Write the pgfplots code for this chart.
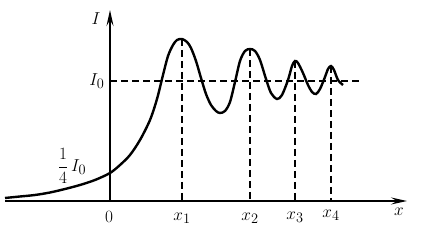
\documentclass[border=0pt]{standalone}
\usepackage{pgfplots}
\pgfplotsset{compat=1.18}
\usetikzlibrary{arrows.meta}
\begin{document}
\begin{tikzpicture}
\begin{axis}[
  scale only axis, width=429pt, height=245pt,
  xmin=-110, xmax=319, ymin=-44, ymax=201,
  axis lines=none, clip=false,
]
\path (rel axis cs:0,0) rectangle (rel axis cs:1,1);
% axes
\draw[line width=1.8pt, -{Stealth[length=16pt,width=7pt,inset=6pt]}] (axis cs:-105,0) -- (axis cs:297,0);
\draw[line width=1.8pt, -{Stealth[length=16pt,width=7pt,inset=6pt]}] (axis cs:0,0) -- (axis cs:0,191);
% dashed lines
\addplot[line width=1.4pt, dash pattern=on 7pt off 4pt] coordinates {(0,120) (250,120)};
\addplot[line width=1.4pt, dash pattern=on 7pt off 4pt] coordinates {(72,162) (72,0)};
\addplot[line width=1.4pt, dash pattern=on 7pt off 4pt] coordinates {(140,152) (140,0)};
\addplot[line width=1.4pt, dash pattern=on 7pt off 4pt] coordinates {(185,140) (185,0)};
\addplot[line width=1.4pt, dash pattern=on 7pt off 4pt] coordinates {(221,135) (221,0)};
% curve
\addplot[line width=2.4pt, smooth, tension=0.5] coordinates {
(-105,3) (-90,4.5) (-75,6) (-60,8.5) (-45,12) (-30,16) (-15,21) (0,28) (10,36) (20,46)
(30,61) (40,81) (47,102) (53,126) (58,145) (63,156) (67,161) (72,162)
(77,159) (81,153) (86,140) (91,123) (96,107) (101,96) (106,90) (110,88) (115,90)
(120,99) (125,119) (130,140) (135,150) (140,152) (145,150)
(150,141) (156,122) (161,108) (167,102) (172,106) (178,121) (182,135) (185,140) (188,138)
(193,128) (198,116) (202,109) (206,107) (210,112) (215,124) (218,132) (221,135) (224,131) (228,121) (233,116)
};
% labels
\node[font=\fontsize{19}{21}\selectfont] at (axis cs:-14,182) {$I$};
\node[font=\fontsize{19}{21}\selectfont, anchor=east] at (axis cs:-2,120) {$I_0$};
\node[font=\fontsize{19}{21}\selectfont] at (axis cs:-38,35) {$\displaystyle\frac{1}{4}\,I_0$};
\node[font=\fontsize{19}{21}\selectfont] at (axis cs:-1,-16) {$0$};
\node[font=\fontsize{19}{21}\selectfont] at (axis cs:72,-17) {$x_1$};
\node[font=\fontsize{19}{21}\selectfont] at (axis cs:140,-17) {$x_2$};
\node[font=\fontsize{19}{21}\selectfont] at (axis cs:185,-16) {$x_3$};
\node[font=\fontsize{19}{21}\selectfont] at (axis cs:221,-14) {$x_4$};
\node[font=\fontsize{19}{21}\selectfont] at (axis cs:289,-11) {$x$};
\end{axis}
\end{tikzpicture}
\end{document}
